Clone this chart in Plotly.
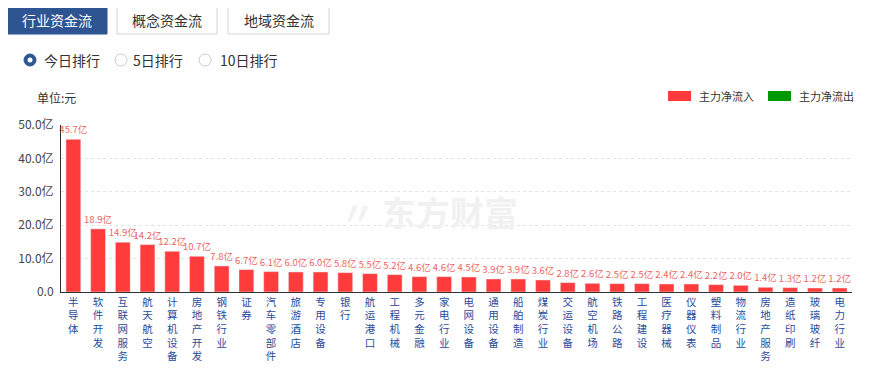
import plotly.graph_objects as go

categories = ["半导体", "软件开发", "互联网服务", "航天航空", "计算机设备", "房地产开发", "钢铁行业", "证券",
              "汽车零部件", "旅游酒店", "专用设备", "银行", "航运港口", "工程机械", "多元金融", "家电行业",
              "电网设备", "通用设备", "船舶制造", "煤炭行业", "交运设备", "航空机场", "铁路公路", "工程建设",
              "医疗器械", "仪器仪表", "塑料制品", "物流行业", "房地产服务", "造纸印刷", "玻璃玻纤", "电力行业"]
inflow = [45.7, 18.9, 14.9, 14.2, 12.2, 10.7, 7.8, 6.7, 6.1, 6.0, 6.0, 5.8, 5.5, 5.2, 4.6, 4.6,
          4.5, 3.9, 3.9, 3.6, 2.8, 2.6, 2.5, 2.5, 2.4, 2.4, 2.2, 2.0, 1.4, 1.3, 1.2, 1.2]
ytick_vals = [0, 10, 20, 30, 40, 50]
ytick_text = ["0.0", "10.0亿", "20.0亿", "30.0亿", "40.0亿", "50.0亿"]
tabs = ["行业资金流", "概念资金流", "地域资金流"]
radios = ["今日排行", "5日排行", "10日排行"]
legend_names = ["主力净流入", "主力净流出"]

FONT = "Noto Sans CJK SC, Microsoft YaHei, sans-serif"
OFF = 8  # page body margin
W, H = 875 - OFF, 371 - OFF
L, T = 61 - OFF, 125 - OFF
R = W - (852 - OFF)
B = H - (292 - OFF)
PW, PH = W - L - R, H - T - B
RED = "#ff3b3b"
GREEN = "#009a00"
BLUE = "#2e5491"


def px(x):
    return (x - OFF - L) / PW


def py(y):
    return (H - B - (y - OFF)) / PH


vertical = ["<br>".join(list(c)) for c in categories]

fig = go.Figure()
fig.add_trace(go.Bar(
    x=categories, y=inflow, marker_color=RED, name=legend_names[0],
    text=inflow, texttemplate="%{y:.1f}亿", textposition="outside",
    textfont=dict(size=9.5, color="#ec6464", family=FONT), cliponaxis=False,
    constraintext="none", showlegend=False,
))

shapes = []
annotations = []

# tabs
tab_x = [(7, 107), (117, 217), (228, 329)]
for i, (name, (x0, x1)) in enumerate(zip(tabs, tab_x)):
    sel = i == 0
    shapes.append(dict(type="rect", xref="paper", yref="paper",
                       x0=px(x0), x1=px(x1), y0=py(34), y1=py(5),
                       fillcolor=BLUE if sel else "white",
                       line=dict(color=BLUE if sel else "#cfd3da", width=1)))
    annotations.append(dict(xref="paper", yref="paper", x=px((x0 + x1) / 2), y=py(20),
                            text=name, showarrow=False, xanchor="center", yanchor="middle",
                            font=dict(size=14, color="white" if sel else "#333", family=FONT)))

# radios
radio_c = [30, 121, 205]
radio_t = [42, 131, 218]
for i, (name, cx, tx) in enumerate(zip(radios, radio_c, radio_t)):
    if i == 0:
        shapes.append(dict(type="circle", xref="paper", yref="paper",
                           x0=px(cx - 6), x1=px(cx + 6), y0=py(66), y1=py(54),
                           fillcolor=BLUE, line=dict(color=BLUE, width=1)))
        shapes.append(dict(type="circle", xref="paper", yref="paper",
                           x0=px(cx - 2.5), x1=px(cx + 2.5), y0=py(62.5), y1=py(57.5),
                           fillcolor="white", line=dict(color="white", width=0)))
    else:
        shapes.append(dict(type="circle", xref="paper", yref="paper",
                           x0=px(cx - 6), x1=px(cx + 6), y0=py(66), y1=py(54),
                           fillcolor="white", line=dict(color="#c8ccd4", width=1)))
    annotations.append(dict(xref="paper", yref="paper", x=px(tx), y=py(60),
                            text=name, showarrow=False, xanchor="left", yanchor="middle",
                            font=dict(size=14, color="#333", family=FONT)))

# unit
annotations.append(dict(xref="paper", yref="paper", x=px(35), y=py(97), text="单位:元",
                        showarrow=False, xanchor="left", yanchor="middle",
                        font=dict(size=12, color="#333", family=FONT)))

# legend
leg = [(668, 697, RED), (768, 797, GREEN)]
for name, (sx, tx, col) in zip(legend_names, leg):
    shapes.append(dict(type="rect", xref="paper", yref="paper",
                       x0=px(sx), x1=px(sx + 23), y0=py(101), y1=py(91),
                       fillcolor=col, line=dict(color=col, width=0)))
    annotations.append(dict(xref="paper", yref="paper", x=px(tx), y=py(96), text=name,
                            showarrow=False, xanchor="left", yanchor="middle",
                            font=dict(size=11, color="#333", family=FONT)))

# watermark
annotations.append(dict(xref="paper", yref="paper", x=px(450), y=py(211), text="<b>东方财富</b>",
                        showarrow=False, xanchor="center", yanchor="middle",
                        font=dict(size=34, color="#f1f1f1", family=FONT)))
annotations.append(dict(xref="paper", yref="paper", x=px(358), y=py(211), text="<b>〃</b>",
                        showarrow=False, xanchor="center", yanchor="middle",
                        font=dict(size=34, color="#f1f1f1", family=FONT)))

fig.update_layout(
    width=W, height=H,
    margin=dict(l=L, r=R, t=T, b=B, pad=0, autoexpand=False),
    paper_bgcolor="white", plot_bgcolor="white",
    bargap=0.4,
    showlegend=False,
    shapes=shapes,
    annotations=annotations,
    xaxis=dict(
        tickmode="array", tickvals=categories, ticktext=vertical,
        tickfont=dict(size=10.5, color="#2a4b9b", family=FONT),
        showline=True, linecolor="#333", linewidth=1, ticks="",
        showgrid=False, tickangle=0, fixedrange=True, automargin=False,
    ),
    yaxis=dict(
        range=[0, 50], tickmode="array", tickvals=ytick_vals, ticktext=ytick_text,
        tickfont=dict(size=12, color="#444", family=FONT),
        showline=True, linecolor="#333", linewidth=1,
        showgrid=True, gridcolor="#e3e3e3", griddash="dot", gridwidth=1,
        zeroline=False, ticks="", ticklabelstandoff=4, automargin=False,
    ),
    font=dict(family=FONT),
)

fig.write_html("out.html")
